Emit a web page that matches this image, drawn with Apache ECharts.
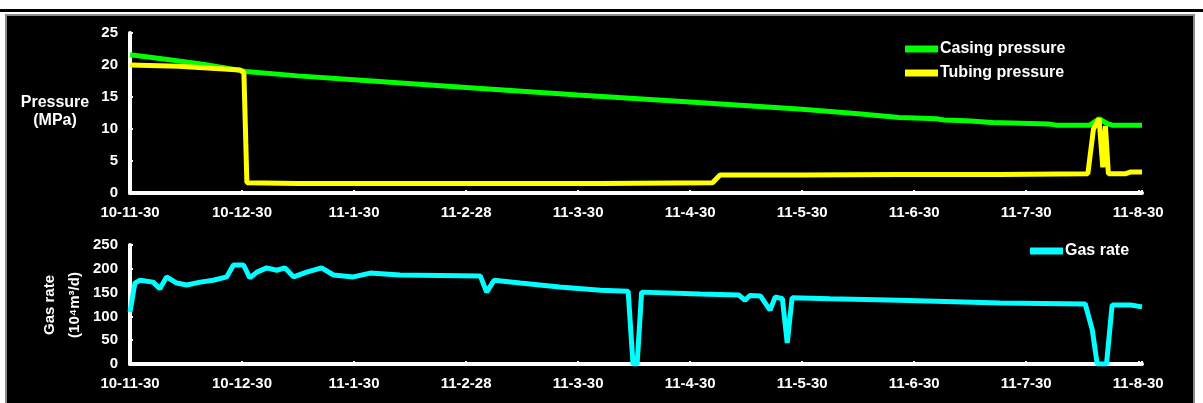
<!DOCTYPE html>
<html>
<head>
<meta charset="utf-8">
<script src="https://cdn.jsdelivr.net/npm/echarts@6/dist/echarts.min.js"></script>
<style>
html,body{margin:0;padding:0;background:#fff;width:1203px;height:403px;overflow:hidden;}
#topline{position:absolute;left:0;top:9px;width:1203px;height:3px;background:#000;}
#panel{position:absolute;left:5px;top:14px;width:1186px;height:395px;background:#000;border:2px solid #8a8a8a;}
#chart{position:absolute;left:0;top:0;width:1203px;height:403px;}
</style>
</head>
<body>
<div id="topline"></div>
<div id="panel"></div>
<div id="chart"></div>
<script>
// x values are days from 10-11-30
const xTickLabels = ["10-11-30","10-12-30","11-1-30","11-2-28","11-3-30","11-4-30","11-5-30","11-6-30","11-7-30","11-8-30"];
const pressureTicks = [0,5,10,15,20,25];
const gasTicks = [0,50,100,150,200,250];

const casingPressure = [
  [0,21.6],[8,21.0],[20,20.1],[31,19.0],[45,18.3],[60,17.7],[90,16.5],[120,15.3],
  [150,14.2],[180,13.1],[195,12.4],[206,11.8],[216,11.6],[218,11.4],[224,11.3],
  [231,11.0],[246,10.8],[248,10.6],[257,10.6],[259.5,11.6],[261.5,10.9],[263,10.6],[271,10.6]
];
const tubingPressure = [
  [0,20.0],[13,19.8],[29.5,19.2],[30.5,18.8],[31.3,1.6],[45,1.5],[72,1.5],[99,1.5],
  [126,1.5],[156,1.6],[158,2.8],[180,2.8],[206,2.9],[233,2.9],[256.5,3.0],[258,10.0],
  [259.5,11.6],[260.5,4.0],[261.2,10.5],[262,3.0],[266.5,3.0],[268,3.3],[271,3.3]
];
const gasRate = [
  [0,109],[1.3,170],[2.7,176],[6.2,172],[8,158],[9.8,183],[12.5,170],[15.2,166],[18.8,172],
  [22.3,176],[25.9,183],[27.7,208],[30.4,208],[32.1,181],[34,193],[36.6,202],[39.3,197],
  [41.5,202],[43.8,183],[47.3,193],[51.3,202],[54.5,187],[59.8,183],[64.3,191],[72.3,187],
  [93.8,185],[95.5,151],[97.5,176],[104.5,170],[115,162],[126,155],[133.4,153],[134.7,0],
  [135.8,0],[137,151],[152.7,147],[163,145],[164.7,134],[166,144],[168.8,143],[171.4,113],
  [172.8,141],[174.7,137],[176,44],[177.3,139],[187.5,137],[206,134],[233,128],[255.8,126],
  [257.7,71],[259,0],[261.5,0],[263,124],[268,124],[271,120]
];

const font = 'Liberation Sans, Arial, sans-serif';
const lbl = {color:'#fff', fontFamily:font, fontWeight:'bold', fontSize:15};

function xAxis(gridIndex){
  return {
    type:'value', gridIndex, min:0, max:271, interval:30,
    axisLine:{show:true, onZero:false, lineStyle:{color:'#fff', width:4}},
    axisTick:{show:true, inside:true, length:3, lineStyle:{color:'#fff', width:2}},
    splitLine:{show:false},
    axisLabel:Object.assign({margin:12, formatter:function(v){
      const i = Math.round(v/30);
      return (Math.abs(v - i*30) < 1e-6 && xTickLabels[i]) ? xTickLabels[i] : '';
    }}, lbl)
  };
}
function yAxis(gridIndex, ticks){
  const step = ticks[1]-ticks[0];
  return {
    type:'value', gridIndex, min:ticks[0], max:ticks[ticks.length-1], interval:step,
    axisLine:{show:true, lineStyle:{color:'#fff', width:4}},
    axisTick:{show:true, inside:true, length:3, lineStyle:{color:'#fff', width:2}},
    splitLine:{show:false},
    axisLabel:Object.assign({margin:12}, lbl)
  };
}

const chart = echarts.init(document.getElementById('chart'), null, {renderer:'canvas'});
chart.setOption({
  backgroundColor:'transparent',
  animation:false,
  grid:[
    {left:130, top:33, width:1012, height:160},
    {left:130, top:245, width:1012, height:119}
  ],
  xAxis:[xAxis(0), xAxis(1)],
  yAxis:[yAxis(0, pressureTicks), yAxis(1, gasTicks)],
  legend:[
    {left:900, top:35, orient:'vertical', itemWidth:33, itemHeight:7, itemGap:6, icon:'rect',
     textStyle:{color:'#fff', fontFamily:font, fontWeight:'bold', fontSize:16, lineHeight:18, padding:[0,0,0,-3]},
     data:['Casing pressure','Tubing pressure']},
    {left:1025, top:237, orient:'vertical', itemWidth:33, itemHeight:7, icon:'rect',
     textStyle:{color:'#fff', fontFamily:font, fontWeight:'bold', fontSize:16, lineHeight:18, padding:[0,0,0,-3]},
     data:['Gas rate']}
  ],
  graphic:[
    {type:'text', x:55, y:103, style:{text:'Pressure', fill:'#fff', font:'bold 16px '+font, textAlign:'center', textVerticalAlign:'middle'}},
    {type:'text', x:55, y:121, style:{text:'(MPa)', fill:'#fff', font:'bold 16px '+font, textAlign:'center', textVerticalAlign:'middle'}},
    {type:'text', x:50, y:305, rotation:Math.PI/2, style:{text:'Gas rate', fill:'#fff', font:'bold 15px '+font, textAlign:'center', textVerticalAlign:'middle'}},
    {type:'text', x:75, y:305, rotation:Math.PI/2, style:{text:'(10⁴m³/d)', fill:'#fff', font:'bold 15px '+font, textAlign:'center', textVerticalAlign:'middle'}}
  ],
  series:[
    {name:'Casing pressure', type:'line', xAxisIndex:0, yAxisIndex:0, data:casingPressure, showSymbol:false, lineStyle:{color:'#00ff00', width:5}, itemStyle:{color:'#00ff00'}},
    {name:'Tubing pressure', type:'line', xAxisIndex:0, yAxisIndex:0, data:tubingPressure, showSymbol:false, lineStyle:{color:'#ffff00', width:5}, itemStyle:{color:'#ffff00'}},
    {name:'Gas rate', type:'line', xAxisIndex:1, yAxisIndex:1, data:gasRate, showSymbol:false, lineStyle:{color:'#00ffff', width:5}, itemStyle:{color:'#00ffff'}}
  ]
});
</script>
</body>
</html>
